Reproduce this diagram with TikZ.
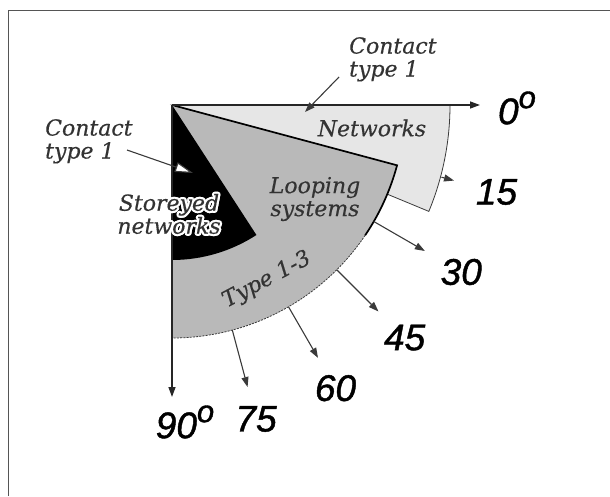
\documentclass[tikz,border=0pt]{standalone}
\usepackage{fontspec}
\newfontfamily\slabfont{DejaVu Serif}[ItalicFeatures={FakeBold=0.4}]
\newfontfamily\numfont{Liberation Sans}[ItalicFeatures={FakeBold=1.2}]
\usetikzlibrary{arrows.meta}
\definecolor{lkLight}{HTML}{E6E6E6}
\definecolor{lkGray}{HTML}{B9B9B9}
\definecolor{lkInk}{HTML}{333333}
\definecolor{lkFrame}{HTML}{555555}
\definecolor{lkEdge}{HTML}{3A3A3A}
\newcommand{\degsup}{\raisebox{16pt}{\fontsize{31}{31}\selectfont o}}
\tikzset{
  sectorlbl/.style={font=\slabfont\itshape\fontsize{22}{23}\selectfont,
    text=lkInk, align=center, inner sep=0pt},
  contactlbl/.style={sectorlbl, align=left, anchor=north west},
  anglelbl/.style={font=\numfont\itshape\fontsize{37}{37}\selectfont, inner sep=0pt},
  tickarrow/.style={-{Triangle[length=10pt, width=7pt]}, line width=1.1pt, lkEdge},
  axisarrow/.style={-{Triangle[length=10pt, width=7pt]}, line width=1.3pt, black!85},
  pointer/.style={-{Triangle[length=10pt, width=7pt]}, line width=1.1pt, lkEdge},
  openpointer/.style={-{Triangle[open, fill=white, length=18pt, width=10pt]}, line width=1.1pt, lkEdge},
  rimline/.style={lkEdge, line width=0.8pt, dash pattern=on 2pt off 1.2pt}
}

\begin{document}
\begin{tikzpicture}[x=1pt, y=-1pt]
  \useasboundingbox (0,0) rectangle (610,496);
  \draw[lkFrame, line width=1.3pt] (8.5,496) -- (8.5,10.5) -- (610,10.5);

  \begin{scope}[shift={(172,105)}]
    \coordinate (apex) at (0,0);
    % sectors
    \filldraw[fill=lkLight, draw=lkEdge, line width=0.8pt]
      (apex) -- (0:278) arc[start angle=0, end angle=22.5, radius=278] -- cycle;
    \fill[lkGray] (apex) -- (15:233) arc[start angle=15, end angle=90, radius=233] -- cycle;
    \draw[black, line width=1.7pt]
      (apex) -- (15:233) arc[start angle=15, end angle=34, radius=233];
    \draw[rimline] (34:233) arc[start angle=34, end angle=90, radius=233];
    \fill[black] (apex) -- (57:155) arc[start angle=57, end angle=90, radius=155] -- cycle;

    % axes
    \coordinate (end0) at (0:308);
    \coordinate (end90) at (90:292);
    \draw[axisarrow] (apex) -- (end0);
    \draw[axisarrow] (apex) -- (end90);
    \node[anglelbl] (lbl0) at (345,3) {0\degsup};
    \node[anglelbl] (lbl90) at (13,317) {90\degsup};

    % angle ticks
    \foreach \a/\r/\d in {15/279/336, 30/233/334, 45/233/329, 60/233/327, 75/233/325}{
      \coordinate (from\a) at (\a:\r);
      \coordinate (to\a) at (\a:292);
      \draw[tickarrow] (from\a) -- (to\a);
      \node[anglelbl] (lbl\a) at (\a:\d) {\a};
    }

    % sector names
    \node[sectorlbl] (networks) at (200,23) {Networks};
    \node[sectorlbl] (looping) at (143,94) {Looping\\systems};
    \node[sectorlbl, rotate=28] (type13) at (95,175) {Type 1-3};
    \foreach \ang in {0,30,...,330}
      \node[sectorlbl, text=white, shift={(\ang:2.2pt)}] at (-3,109) {Storeyed\\networks};
    \node[sectorlbl] (storeyed) at (-3,109) {Storeyed\\networks};

    % contact labels
    \node[contactlbl] (contactA) at (-127,14) {Contact\\type 1};
    \node[contactlbl] (contactB) at (177,-68) {Contact\\type 1};
    \coordinate (tailA) at (-45,45);
    \coordinate (tipA) at (21,68);
    \coordinate (tailB) at (167,-28);
    \coordinate (tipB) at (133,7);
    \draw[openpointer] (tailA) -- (tipA);
    \draw[pointer] (tailB) -- (tipB);
  \end{scope}
\end{tikzpicture}
\end{document}
